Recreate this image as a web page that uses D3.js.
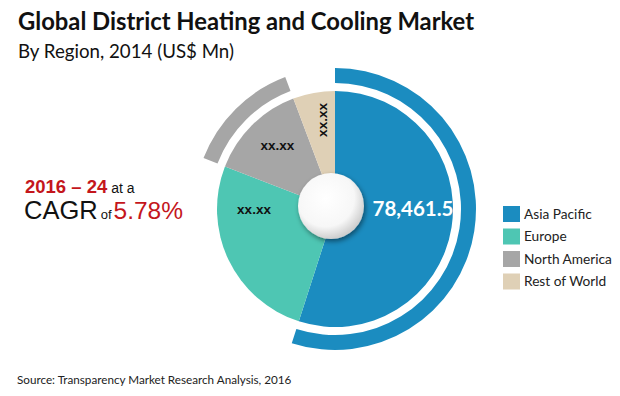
<!DOCTYPE html>
<html>
<head>
<meta charset="utf-8">
<script src="https://cdn.jsdelivr.net/npm/d3@7"></script>
<style>
  html, body { margin: 0; padding: 0; background: #fff; }
  svg { display: block; }
</style>
</head>
<body>
<div id="chart"></div>
<script>

// data
var regions = ["Asia Pacific", "Europe", "North America", "Rest of World"];
var values = [78461.5, 37000, 19100, 8200];
var labels = ["78,461.5", "xx.xx", "xx.xx", "xx.xx"];
var colors = ["#1b8cc0", "#4ec6b3", "#a6a6a6", "#dfd0b6"];
var ringed = ["Asia Pacific", "North America"];

var width = 620, height = 396;
var cx = 335, cy = 209;

var svg = d3.select("#chart").append("svg")
    .attr("width", width)
    .attr("height", height)
    .style("font-family", "Lato, 'Open Sans', sans-serif");

var defs = svg.append("defs");
var grad = defs.append("radialGradient")
    .attr("id", "hole")
    .attr("cx", "42%").attr("cy", "38%").attr("r", "62%");
grad.append("stop").attr("offset", "0%").attr("stop-color", "#ffffff");
grad.append("stop").attr("offset", "70%").attr("stop-color", "#f7f7f7");
grad.append("stop").attr("offset", "100%").attr("stop-color", "#cfcfcf");

var shadow = defs.append("filter").attr("id", "shadow")
    .attr("x", "-30%").attr("y", "-30%").attr("width", "160%").attr("height", "160%");
shadow.append("feDropShadow")
    .attr("dx", 1.5).attr("dy", 2.5).attr("stdDeviation", 2.5)
    .attr("flood-color", "#000").attr("flood-opacity", 0.45);

// titles
svg.append("text")
    .attr("x", 18).attr("y", 30)
    .attr("font-size", 23.8).attr("font-weight", "bold").attr("fill", "#111")
    .text("Global District Heating and Cooling Market");

svg.append("text")
    .attr("x", 18).attr("y", 58)
    .attr("font-size", 18.7).attr("fill", "#111")
    .text("By Region, 2014 (US$ Mn)");

// pie
var pie = d3.pie().sort(null).value(d => d.value);
var data = regions.map((r, i) => ({ region: r, value: values[i], label: labels[i], color: colors[i] }));
var arcs = pie(data);

var g = svg.append("g").attr("transform", "translate(" + cx + "," + cy + ")");

var arc = d3.arc().innerRadius(0).outerRadius(118);
var ring = d3.arc().innerRadius(126).outerRadius(141);

g.selectAll(".ring")
    .data(arcs.filter(d => ringed.indexOf(d.data.region) >= 0))
    .enter().append("path")
    .attr("class", "ring")
    .attr("d", ring)
    .attr("fill", d => d.data.color);

g.selectAll(".slice")
    .data(arcs)
    .enter().append("path")
    .attr("class", "slice")
    .attr("d", arc)
    .attr("fill", d => d.data.color);

// centre button
g.append("circle")
    .attr("cx", -4).attr("cy", -3).attr("r", 33)
    .attr("fill", "url(#hole)")
    .attr("filter", "url(#shadow)");

// slice labels: [angle in degrees, radius, rotate]
var labelPos = [[90, 78, 0], [270, 81, 0], [318, 86, 0], [351.5, 90, -90]];

var _polar = (a, r) => [r * Math.sin(a * Math.PI / 180), -r * Math.cos(a * Math.PI / 180)];

g.selectAll(".lbl")
    .data(arcs)
    .enter().append("text")
    .attr("class", "lbl")
    .attr("transform", (d, i) => {
        var p = _polar(labelPos[i][0], labelPos[i][1]);
        return "translate(" + p[0] + "," + p[1] + ") rotate(" + labelPos[i][2] + ")";
    })
    .attr("text-anchor", "middle")
    .attr("dy", "0.36em")
    .attr("font-family", (d, i) => i == 0 ? "Lato, sans-serif" : "'Liberation Sans', Arial, sans-serif")
    .attr("font-size", (d, i) => i == 0 ? 20.5 : 13.5)
    .attr("font-weight", "bold")
    .attr("fill", (d, i) => i == 0 ? "#fff" : "#111")
    .text(d => d.data.label);

// CAGR note
var note = svg.append("g").style("font-family", "'Liberation Sans', Arial, sans-serif");
var l1 = note.append("text").attr("x", 25).attr("y", 193);
l1.append("tspan").attr("font-size", 18.5).attr("font-weight", "bold").attr("fill", "#c4161c").text("2016 \u2013 24");
l1.append("tspan").attr("font-size", 14).attr("fill", "#111").text(" at a");
var l2 = note.append("text").attr("x", 24).attr("y", 219);
l2.append("tspan").attr("font-size", 25.5).attr("fill", "#111").text("CAGR");
l2.append("tspan").attr("font-size", 13).attr("fill", "#111").attr("dx", 3).text("of");
l2.append("tspan").attr("font-size", 24.5).attr("fill", "#c4161c").attr("dx", 2).text("5.78%");

// legend
var legend = svg.append("g").attr("transform", "translate(503,206)");
var item = legend.selectAll(".item")
    .data(data)
    .enter().append("g")
    .attr("class", "item")
    .attr("transform", (d, i) => "translate(0," + i * 22.5 + ")");

item.append("rect")
    .attr("width", 17).attr("height", 16)
    .attr("fill", d => d.color);

item.append("text")
    .attr("x", 21).attr("y", 8).attr("dy", "0.35em")
    .attr("font-size", 13.7).attr("fill", "#222")
    .text(d => d.region);

// source
svg.append("text")
    .attr("x", 17).attr("y", 384)
    .attr("font-size", 11.7).attr("fill", "#222")
    .text("Source: Transparency Market Research Analysis, 2016");

</script>
</body>
</html>
